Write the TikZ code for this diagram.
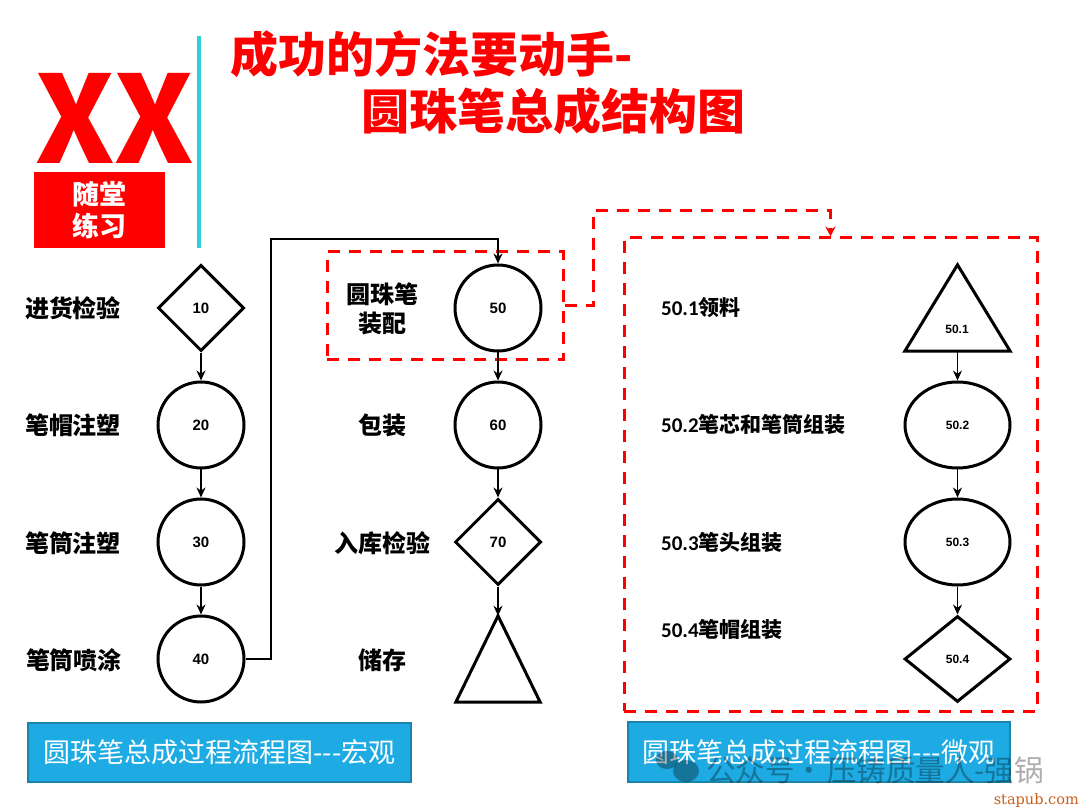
\documentclass[tikz,border=0pt]{standalone}
\usepackage{fontspec}
\setmainfont{Noto Sans CJK SC}
\newfontfamily\latinb{Liberation Sans}
\newfontfamily\carl{Carlito}
\newfontfamily\serifw{DejaVu Serif}
\usetikzlibrary{shapes.geometric,arrows.meta}
\definecolor{myred}{HTML}{FF0000}
\definecolor{teal1}{HTML}{2FD0DC}
\definecolor{blue1}{HTML}{1EABE3}
\definecolor{blue2}{HTML}{1B84AB}
\definecolor{brownw}{HTML}{C8601A}
\newcommand{\hh}{-\kern0pt-\kern0pt-}
\tikzset{
 x=1pt,y=-1pt,
 shp/.style={draw=black,line width=3pt,inner sep=0pt,fill=none},
 circ/.style={shp,circle,minimum size=86pt},
 ell/.style={shp,ellipse,minimum width=105pt,minimum height=86pt},
 dia/.style={shp,diamond,minimum width=86pt,minimum height=86pt},
 diaw/.style={shp,diamond,aspect=1.22,minimum width=106pt,minimum height=86pt},
 trib/.style={inner sep=0pt,rectangle},
 tri/.style={line width=3pt,line join=miter},
 num/.style={font=\latinb\bfseries\fontsize{15}{15}\selectfont},
 snum/.style={font=\latinb\bfseries\fontsize{12}{12}\selectfont},
 lab/.style={font=\bfseries\fontsize{24}{24}\selectfont,inner sep=0pt},
 llab/.style={font=\bfseries\fontsize{21}{21}\selectfont,inner sep=0pt,anchor=west},
 conn/.style={line width=1.2pt,-{Stealth[length=10pt,width=9pt]}},
 dbox/.style={draw=myred,line width=3pt,dash pattern=on 12pt off 9pt,inner sep=0pt,rectangle},
 dconn/.style={draw=myred,line width=3pt,dash pattern=on 12pt off 9pt,-{Stealth[length=10pt,width=10pt,fill=myred]}},
 bbox/.style={draw=blue2,fill=blue1,line width=2.5pt,rectangle,inner sep=0pt,text=white,font=\fontsize{27}{27}\selectfont},
 titl/.style={text=myred,font=\bfseries\fontsize{48}{48}\selectfont,inner sep=0pt},
}
\begin{document}
\begin{tikzpicture}
\useasboundingbox (0,0) rectangle (1080,810);
\fill[white] (0,0) rectangle (1080,810);
% header
\node[inner sep=0pt,text=myred,font=\bfseries\fontsize{121}{121}\selectfont] (xx) at (114.5,118) {XX};
\node[rectangle,fill=myred,minimum width=131pt,minimum height=76pt,inner sep=0pt] (badge) at (99.5,210) {};
\node[text=white,font=\bfseries\fontsize{27}{27}\selectfont,inner sep=0pt] (b1) at (99,194) {随堂};
\node[text=white,font=\bfseries\fontsize{27}{27}\selectfont,inner sep=0pt] (b2) at (99,226) {练习};
\draw[teal1,line width=3.5pt] (199,36) -- (199,248);
\node[titl,anchor=west] (t1) at (230,54) {成功的方法要动手-};
\node[titl,anchor=west] (t2) at (361,111) {圆珠笔总成结构图};
% dashed boxes
\node[dbox,minimum width=236pt,minimum height=108pt] (box1) at (445,306) {};
\node[dbox,minimum width=413pt,minimum height=473pt] (box2) at (830.5,474.5) {};
\coordinate (via) at (593,211);
% left column
\node[dia,num] (n10) at (201,308) {10};
\node[circ,num] (n20) at (201,425) {20};
\node[circ,num] (n30) at (201,542) {30};
\node[circ,num] (n40) at (201,659) {40};
\node[lab] (l10) at (73,308) {进货检验};
\node[lab] (l20) at (73,425) {笔帽注塑};
\node[lab] (l30) at (73,543) {笔筒注塑};
\node[lab] (l40) at (74,660) {笔筒喷涂};
% middle column
\node[circ,num] (n50) at (498,308) {50};
\node[circ,num] (n60) at (498,425) {60};
\node[dia,num] (n70) at (498,542) {70};
\node[trib,minimum width=84pt,minimum height=86pt] (n80) at (498,659) {};
\draw[tri] (n80.north) -- (n80.south east) -- (n80.south west) -- cycle;
\node[lab] (l50a) at (382,294) {圆珠笔};
\node[lab] (l50b) at (382,323) {装配};
\node[lab] (l60) at (382,425) {包装};
\node[lab] (l70) at (382,543) {入库检验};
\node[lab] (l80) at (382,660) {储存};
% right column
\node[trib,minimum width=105pt,minimum height=86pt] (m1) at (957.5,308) {};
\draw[tri] (m1.north) -- (m1.south east) -- (m1.south west) -- cycle;
\node[snum] (m1t) at (957,329) {50.1};
\node[ell,snum] (m2) at (957.5,425) {50.2};
\node[ell,snum] (m3) at (957.5,542) {50.3};
\node[diaw,snum] (m4) at (957.5,659) {50.4};
\node[llab] (r1) at (661,308) {{\carl 50.1}领料};
\node[llab] (r2) at (661,425) {{\carl 50.2}笔芯和笔筒组装};
\node[llab] (r3) at (661,543) {{\carl 50.3}笔头组装};
\node[llab] (r4) at (661,630) {{\carl 50.4}笔帽组装};
% connectors
\draw[conn] (n10) -- (n20);
\draw[conn] (n20) -- (n30);
\draw[conn] (n30) -- (n40);
\coordinate (up1) at (271,239);
\draw[conn] (n40.east) -| (up1) -| (n50.north);
\draw[conn] (n50) -- (n60);
\draw[conn] (n60) -- (n70);
\draw[conn] (n70.south) -- (n80.north);
\draw[conn] (m1.south) -- (m2.north);
\draw[conn] (m2) -- (m3);
\draw[conn] (m3) -- (m4);
\draw[dconn] (box1.east) -| (via) -| (box2.north);
% bottom boxes
\node[bbox,minimum width=383pt,minimum height=59pt] (bb1) at (219.5,752.5) {圆珠笔总成过程流程图\hh 宏观};
\node[bbox,minimum width=382pt,minimum height=60pt] (bb2) at (819,752) {圆珠笔总成过程流程图\hh 微观};
% watermark
\begin{scope}[opacity=.32]
\fill[black] (667,760) ellipse (11pt and 9pt);
\fill[black] (686,771) ellipse (13pt and 11pt);
\node[inner sep=0pt,anchor=west,text=black,font=\fontsize{29.5}{29.5}\selectfont] (wm) at (706,770) {公众号·\kern3pt 压铸质量人-强锅};
\end{scope}
\node[inner sep=0pt,anchor=east,text=brownw,font=\serifw\fontsize{14.5}{14.5}\selectfont] (site) at (1079,800) {stapub.com};
\end{tikzpicture}
\end{document}
